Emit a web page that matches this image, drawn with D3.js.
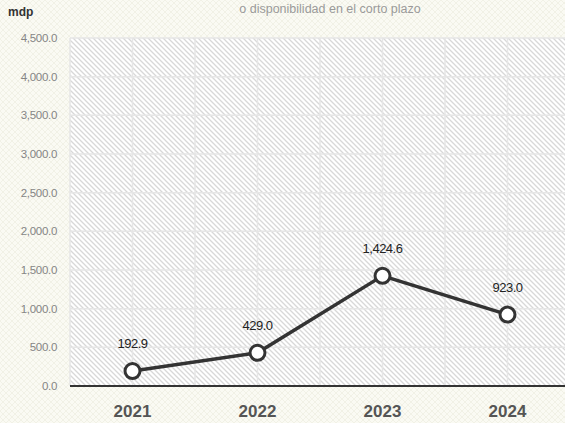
<!DOCTYPE html>
<html>
<head>
<meta charset="utf-8">
<script src="https://cdn.jsdelivr.net/npm/d3@7"></script>
<style>
  html, body { margin: 0; padding: 0; background: #fafaf3; }
  svg { display: block; font-family: "Liberation Sans", Arial, sans-serif; }
</style>
</head>
<body>
<div id="chart"></div>
<script>
// Chart data
const years = ['2021', '2022', '2023', '2024'];
const values = [192.9, 429.0, 1424.6, 923.0];
const yTicks = [0, 500, 1000, 1500, 2000, 2500, 3000, 3500, 4000, 4500];

const width = 565, height = 423;
const margin = { top: 38, right: -5, bottom: 37, left: 70 };

const svg = d3.select('#chart')
  .append('svg')
  .attr('width', width)
  .attr('height', height);

const defs = svg.append('defs');

// outer paper texture
const paper = defs.append('pattern')
  .attr('id', 'paper')
  .attr('patternUnits', 'userSpaceOnUse')
  .attr('width', 6).attr('height', 6);
paper.append('rect').attr('width', 6).attr('height', 6).attr('fill', '#fafaf3');
paper.append('path')
  .attr('d', 'M0,3 L3,0 L6,3 L3,6 Z')
  .attr('fill', 'none')
  .attr('stroke', '#f1f1e6')
  .attr('stroke-width', 1);

// diagonal hatch for the plot area
const hatch = defs.append('pattern')
  .attr('id', 'hatch')
  .attr('patternUnits', 'userSpaceOnUse')
  .attr('width', 5).attr('height', 5);
hatch.append('rect').attr('width', 5).attr('height', 5).attr('fill', '#ffffff');
hatch.append('path')
  .attr('d', 'M-1,-1 L6,6 M-1,4 L1,6 M4,-1 L6,1')
  .attr('stroke', '#d8d8d8')
  .attr('stroke-width', 1.3);

svg.append('rect')
  .attr('width', width).attr('height', height)
  .attr('fill', 'url(#paper)');

const x0 = margin.left, x1 = width - margin.right;
const y0 = height - margin.bottom, y1 = margin.top;

const x = d3.scaleBand().domain(years).range([x0, x1]);
const y = d3.scaleLinear().domain([0, 4500]).range([y0, y1]);

// plot background
svg.append('rect')
  .attr('x', x0).attr('y', y1)
  .attr('width', x1 - x0).attr('height', y0 - y1)
  .attr('fill', 'url(#hatch)');

// horizontal grid
svg.append('g')
  .selectAll('line')
  .data(yTicks.slice(1))
  .enter()
  .append('line')
  .attr('x1', x0).attr('x2', x1)
  .attr('y1', d => y(d)).attr('y2', d => y(d))
  .attr('stroke', '#e6e6e6')
  .attr('stroke-width', 1.5);

// vertical grid: band edges and centres
const vLines = [];
years.forEach(yr => {
  vLines.push(x(yr));
  vLines.push(x(yr) + x.bandwidth() / 2);
});
svg.append('g')
  .selectAll('line')
  .data(vLines)
  .enter()
  .append('line')
  .attr('x1', d => d).attr('x2', d => d)
  .attr('y1', y1).attr('y2', y0)
  .attr('stroke', '#e6e6e6')
  .attr('stroke-width', 1.5);

// y tick labels
svg.append('g')
  .selectAll('text')
  .data(yTicks)
  .enter()
  .append('text')
  .attr('x', 57)
  .attr('y', d => y(d))
  .attr('dy', '0.35em')
  .attr('text-anchor', 'end')
  .attr('font-size', 11.5)
  .attr('letter-spacing', '-0.3')
  .attr('fill', '#858585')
  .text(d => d3.format(',.1f')(d));

// baseline
svg.append('line')
  .attr('x1', x0).attr('x2', x1)
  .attr('y1', y0).attr('y2', y0)
  .attr('stroke', '#333333')
  .attr('stroke-width', 2);

// x labels
svg.append('g')
  .selectAll('text')
  .data(years)
  .enter()
  .append('text')
  .attr('x', d => x(d) + x.bandwidth() / 2)
  .attr('y', 417)
  .attr('text-anchor', 'middle')
  .attr('font-size', 17)
  .attr('font-weight', 'bold')
  .attr('fill', '#555555')
  .text(d => d);

// line
const pts = years.map((yr, i) => ({ year: yr, value: values[i] }));
const line = d3.line()
  .x(d => x(d.year) + x.bandwidth() / 2)
  .y(d => y(d.value));

svg.append('path')
  .datum(pts)
  .attr('d', line)
  .attr('fill', 'none')
  .attr('stroke', '#333333')
  .attr('stroke-width', 3.5);

svg.append('g')
  .selectAll('circle')
  .data(pts)
  .enter()
  .append('circle')
  .attr('cx', d => x(d.year) + x.bandwidth() / 2)
  .attr('cy', d => y(d.value))
  .attr('r', 7.5)
  .attr('fill', '#ffffff')
  .attr('stroke', '#333333')
  .attr('stroke-width', 3);

// value labels
svg.append('g')
  .selectAll('text')
  .data(pts)
  .enter()
  .append('text')
  .attr('x', d => x(d.year) + x.bandwidth() / 2)
  .attr('y', d => y(d.value) - 23)
  .attr('text-anchor', 'middle')
  .attr('font-size', 13)
  .attr('letter-spacing', '-0.5')
  .attr('fill', '#222222')
  .text(d => d3.format(',.1f')(d.value));

// unit label and subtitle
svg.append('text')
  .attr('x', 8).attr('y', 16)
  .attr('font-size', 12)
  .attr('font-weight', 'bold')
  .attr('fill', '#333333')
  .text('mdp');

svg.append('text')
  .attr('x', 330).attr('y', 13)
  .attr('text-anchor', 'middle')
  .attr('font-size', 12.5)
  .attr('fill', '#9a9a9a')
  .text('o disponibilidad en el corto plazo');
</script>
</body>
</html>
